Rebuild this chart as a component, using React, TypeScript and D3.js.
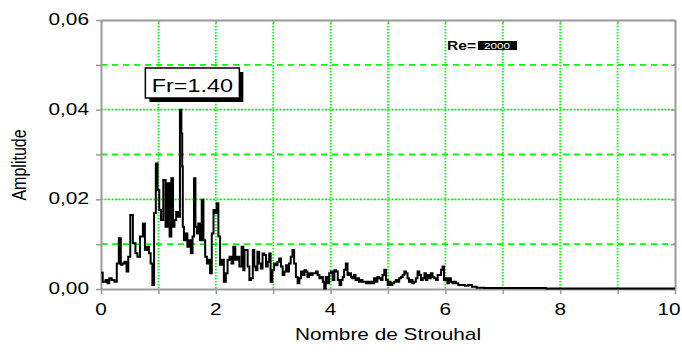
import React, { useRef, useEffect } from 'react';
import * as d3 from 'd3';

// spectre d'amplitude
const strouhal = [
  0.0, 0.06, 0.1, 0.13, 0.16, 0.21, 0.26, 0.29, 0.33, 0.36, 0.39, 0.43, 0.46, 0.49,
  0.53, 0.58, 0.62, 0.65, 0.71, 0.75, 0.78, 0.82, 0.85, 0.88, 0.91, 0.94, 0.97, 1.0,
  1.03, 1.06, 1.11, 1.14, 1.18, 1.21, 1.24, 1.27, 1.29, 1.33, 1.36, 1.39, 1.41, 1.42,
  1.43, 1.46, 1.49, 1.52, 1.55, 1.58, 1.61, 1.63, 1.66, 1.68, 1.71, 1.74, 1.77, 1.8,
  1.83, 1.86, 1.89, 1.91, 1.95, 1.97, 2.0, 2.03, 2.06, 2.09, 2.12, 2.16, 2.19, 2.22,
  2.26, 2.29, 2.32, 2.36, 2.39, 2.43, 2.47, 2.49,
  2.51, 2.54, 2.57, 2.6, 2.63, 2.66, 2.68, 2.71, 2.74, 2.77, 2.8, 2.83, 2.86, 2.89,
  2.92, 2.94, 2.97, 3.0, 3.03, 3.06, 3.09, 3.12, 3.15, 3.18, 3.21, 3.24, 3.26, 3.29,
  3.32, 3.35, 3.38, 3.41, 3.44, 3.47, 3.5, 3.53, 3.56, 3.58, 3.61, 3.64, 3.67, 3.7,
  3.73, 3.76, 3.79, 3.82, 3.85, 3.88, 3.9, 3.93, 3.96, 3.99, 4.02, 4.05, 4.08, 4.11,
  4.14, 4.17, 4.2, 4.22,
  4.25, 4.28, 4.31, 4.34, 4.37, 4.39, 4.42, 4.45, 4.48, 4.51, 4.54, 4.57, 4.6, 4.63,
  4.66, 4.69, 4.71, 4.74, 4.77, 4.8, 4.83, 4.86, 4.89, 4.92, 4.95, 4.98, 5.01, 5.03,
  5.06, 5.09, 5.12, 5.15, 5.18, 5.21, 5.24, 5.27, 5.3, 5.33, 5.35, 5.38, 5.41, 5.44,
  5.47, 5.5, 5.53, 5.56, 5.59, 5.62, 5.65, 5.67, 5.7, 5.73, 5.76, 5.79, 5.82, 5.85,
  5.88, 5.91, 5.94, 5.96, 5.99, 6.02, 6.05, 6.08, 6.11, 6.14, 6.17, 6.2, 6.25, 6.31,
  6.37, 6.43, 6.49, 6.6, 6.75, 7.0, 7.5, 8.0, 8.5, 9.0, 10.0,
];

const amplitude = [
  0.0036, 0.0016, 0.002, 0.0013, 0.0024, 0.002, 0.0016, 0.0057, 0.0113, 0.0054, 0.0057, 0.0061, 0.0039, 0.0072,
  0.0165, 0.0102, 0.008, 0.0072, 0.0117, 0.0146, 0.0087, 0.0094, 0.008, 0.0057, 0.0009, 0.0169, 0.028, 0.0221,
  0.0176, 0.0154, 0.0243, 0.0139, 0.0236, 0.0117, 0.0247, 0.0139, 0.0154, 0.0172, 0.0161, 0.04, 0.0347, 0.0273,
  0.0139, 0.0109, 0.0124, 0.0094, 0.0109, 0.008, 0.0117, 0.0247, 0.0139, 0.0124, 0.0146, 0.0109, 0.0199, 0.0109,
  0.0072, 0.0057, 0.0065, 0.0035, 0.0124, 0.0176, 0.0169, 0.0191, 0.0117, 0.0054, 0.0065, 0.0016, 0.0035, 0.0065,
  0.0072, 0.0057, 0.0094, 0.0065, 0.0072, 0.005, 0.0094, 0.0042,
  0.0087, 0.0087, 0.005, 0.002, 0.0024, 0.0087, 0.005, 0.0042, 0.0083, 0.0057, 0.0046, 0.0079, 0.0076, 0.005,
  0.0061, 0.0079, 0.0016, 0.0042, 0.0057, 0.0053, 0.0061, 0.0068, 0.005, 0.0031, 0.0039, 0.0053, 0.0039, 0.0057,
  0.0072, 0.0087, 0.0057, 0.0027, 0.0013, 0.0024, 0.0039, 0.0031, 0.0042, 0.0039, 0.0027, 0.0035, 0.0031, 0.0035,
  0.0035, 0.0039, 0.0031, 0.0024, 0.0027, 0.0016, 0.0001, 0.0027, 0.0013, 0.0035, 0.0039, 0.002, 0.0042, 0.0039,
  0.002, 0.0009, 0.002, 0.0027,
  0.0043, 0.0057, 0.0031, 0.0035, 0.0027, 0.0024, 0.0031, 0.002, 0.0024, 0.0016, 0.002, 0.0016, 0.0016, 0.0013,
  0.0016, 0.0013, 0.0016, 0.0013, 0.0024, 0.0016, 0.0027, 0.0024, 0.002, 0.0031, 0.0043, 0.002, 0.0009, 0.0016,
  0.0009, 0.0013, 0.0016, 0.002, 0.0016, 0.0024, 0.0027, 0.0031, 0.0039, 0.0035, 0.0024, 0.0016, 0.002, 0.0013,
  0.0016, 0.0024, 0.0039, 0.0031, 0.002, 0.0024, 0.0035, 0.002, 0.0031, 0.0024, 0.0035, 0.0027, 0.0024, 0.002,
  0.0031, 0.0031, 0.0043, 0.005, 0.002, 0.0024, 0.0013, 0.0024, 0.0016, 0.0013, 0.0016, 0.0013, 0.0009, 0.0009,
  0.0007, 0.0009, 0.0005, 0.0003, 0.0002, 0.0002, 0.0002, 0.0001, 0.0001, 0.0001, 0.0001,
];

const xTicks = [0, 2, 4, 6, 8, 10];
const yTicks = [0, 0.02, 0.04, 0.06];
const xTitle = 'Nombre de Strouhal';
const yTitle = 'Amplitude';
const peakLabel = 'Fr=1.40';
const peakSt = 1.4;
const reLabel = 'Re=';
const reValue = '2000';

const FONT = '"Liberation Sans", Arial, sans-serif';
const AXIS = '#9a9a9a';
const GRID = '#00ff00';
const STRETCH = 1.3; // le texte de l'image est étiré horizontalement

function SpectrumChart() {
  const svgRef = useRef(null);

  useEffect(() => {
    const svg = d3.select(svgRef.current);
    svg.selectAll('*').remove();

    const x = d3.scaleLinear().domain([0, 10]).range([101, 675]);
    const y = d3.scaleLinear().domain([0, 0.06]).range([289, 20]);

    // grille verticale pointillée
    svg
      .selectAll('.vgrid')
      .data(d3.range(1, 10))
      .join('line')
      .attr('class', 'vgrid')
      .attr('x1', (d) => x(d))
      .attr('x2', (d) => x(d))
      .attr('y1', y(0.06))
      .attr('y2', y(0))
      .attr('stroke', GRID)
      .attr('stroke-width', 1.8)
      .attr('stroke-dasharray', '1.5,1.5');

    // grille horizontale : tirets aux impairs, points aux pairs
    svg
      .selectAll('.hgrid')
      .data([1, 2, 3, 4, 5])
      .join('line')
      .attr('class', 'hgrid')
      .attr('x1', x(0))
      .attr('x2', x(10))
      .attr('y1', (d) => y(d / 100))
      .attr('y2', (d) => y(d / 100))
      .attr('stroke', GRID)
      .attr('stroke-width', 1.8)
      .attr('stroke-dasharray', (d) => (d % 2 ? '6,5' : '2,1.5'));

    // axes
    const gx = svg
      .append('g')
      .attr('transform', `translate(0,${y(0)})`)
      .call(d3.axisBottom(x).tickValues(d3.range(0, 11)).tickSize(5).tickSizeOuter(0).tickFormat(() => ''));
    const gy = svg
      .append('g')
      .attr('transform', `translate(${x(0)},0)`)
      .call(d3.axisLeft(y).tickValues(d3.range(0, 7).map((d) => d / 100)).tickSize(5).tickSizeOuter(0).tickFormat(() => ''));
    const gt = svg
      .append('g')
      .attr('transform', `translate(0,${y(0.06)})`)
      .call(d3.axisBottom(x).tickValues(d3.range(0, 11)).tickSize(3).tickSizeOuter(0).tickFormat(() => ''));
    const gr = svg
      .append('g')
      .attr('transform', `translate(${x(10)},0)`)
      .call(d3.axisLeft(y).tickValues(d3.range(0, 7).map((d) => d / 100)).tickSize(4).tickSizeOuter(0).tickFormat(() => ''));
    [gx, gy, gt, gr].forEach((g) => {
      g.select('.domain').attr('stroke', AXIS).attr('stroke-width', 2);
      g.selectAll('.tick line').attr('stroke', AXIS).attr('stroke-width', 1.5);
    });

    // courbe
    const line = d3
      .line()
      .x((d, i) => x(strouhal[i]))
      .y((d) => y(d))
      .curve(d3.curveStep);
    svg
      .append('path')
      .datum(amplitude)
      .attr('fill', 'none')
      .attr('stroke', '#000')
      .attr('stroke-width', 2)
      .attr('d', line);

    // étiquettes des axes
    svg
      .selectAll('.xlabel')
      .data(xTicks)
      .join('text')
      .attr('class', 'xlabel')
      // le "10" reste dans la fenêtre
      .attr('transform', (d) => `translate(${Math.min(x(d), 669)},315) scale(${STRETCH},1)`)
      .attr('text-anchor', 'middle')
      .attr('font-family', FONT)
      .attr('font-size', 16)
      .text((d) => d);

    svg
      .selectAll('.ylabel')
      .data(yTicks)
      .join('text')
      .attr('class', 'ylabel')
      .attr('transform', (d) => `translate(89,${y(d) + 5}) scale(${STRETCH},1)`)
      .attr('text-anchor', 'end')
      .attr('font-family', FONT)
      .attr('font-size', 16)
      .text((d) => d3.format('.2f')(d).replace('.', ','));

    svg
      .append('text')
      .attr('transform', `translate(${(x(0) + x(10)) / 2},340) scale(${STRETCH},1)`)
      .attr('text-anchor', 'middle')
      .attr('font-family', FONT)
      .attr('font-size', 16)
      .text(xTitle);

    svg
      .append('text')
      .attr('transform', `translate(26,165) rotate(-90) scale(1,${STRETCH})`)
      .attr('text-anchor', 'middle')
      .attr('font-family', FONT)
      .attr('font-size', 16)
      .text(yTitle);

    // boîte Fr avec ombre
    const bx = x(peakSt) + 11;
    svg.append('rect').attr('x', bx - 43).attr('y', 72).attr('width', 94).attr('height', 30).attr('fill', '#000');
    svg
      .append('rect')
      .attr('x', bx - 47)
      .attr('y', 68)
      .attr('width', 94)
      .attr('height', 30)
      .attr('fill', '#fff')
      .attr('stroke', '#000')
      .attr('stroke-width', 1.5);
    svg
      .append('text')
      .attr('transform', `translate(${bx},92) scale(${STRETCH},1)`)
      .attr('text-anchor', 'middle')
      .attr('font-family', FONT)
      .attr('font-size', 18)
      .text(peakLabel);

    // Re=2000
    svg
      .append('text')
      .attr('transform', `translate(447,50) scale(${STRETCH},1)`)
      .attr('font-family', FONT)
      .attr('font-weight', 'bold')
      .attr('font-size', 12)
      .text(reLabel);
    svg.append('rect').attr('x', 478).attr('y', 41).attr('width', 39).attr('height', 9).attr('fill', '#000');
    svg
      .append('text')
      .attr('transform', `translate(497,49) scale(${STRETCH},1)`)
      .attr('text-anchor', 'middle')
      .attr('font-family', FONT)
      .attr('font-size', 9)
      .attr('fill', '#fff')
      .text(reValue);
  }, []);

  return (
    <svg
      ref={svgRef}
      width={682}
      height={352}
      style={{ position: 'absolute', left: 0, top: 0, background: '#fff' }}
    />
  );
}

export default function App() {
  return <SpectrumChart />;
}
